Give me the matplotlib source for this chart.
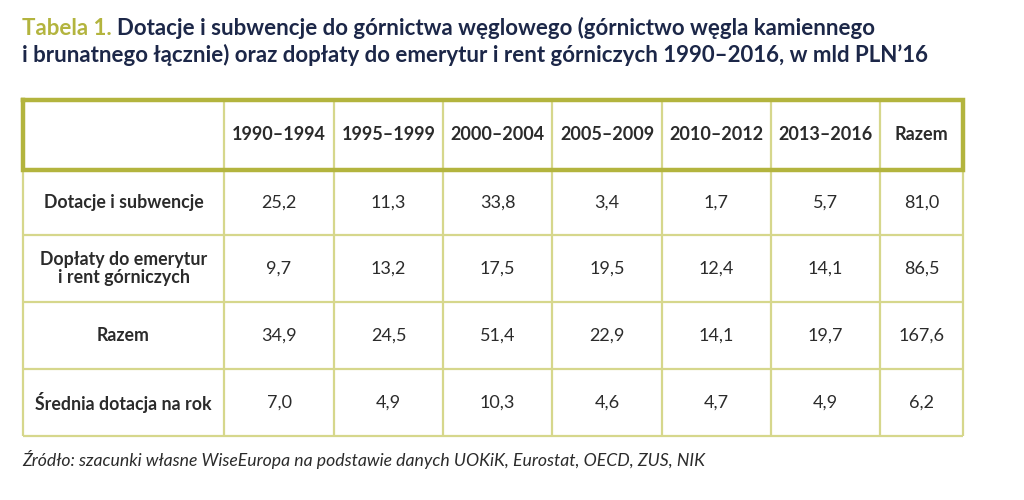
import matplotlib.pyplot as plt

# Table data
periods = ["1990–1994", "1995–1999", "2000–2004", "2005–2009",
           "2010–2012", "2013–2016", "Razem"]
row_labels = ["Dotacje i subwencje", "Dopłaty do emerytur\ni rent górniczych",
              "Razem", "Średnia dotacja na rok"]
dotacje = [25.2, 11.3, 33.8, 3.4, 1.7, 5.7, 81.0]
doplaty = [9.7, 13.2, 17.5, 19.5, 12.4, 14.1, 86.5]
razem = [34.9, 24.5, 51.4, 22.9, 14.1, 19.7, 167.6]
srednia = [7.0, 4.9, 10.3, 4.6, 4.7, 4.9, 6.2]
rows = [dotacje, doplaty, razem, srednia]

title_lead = "Tabela 1."
title_text = ("Dotacje i subwencje do górnictwa węglowego (górnictwo węgla kamiennego\n"
              "i brunatnego łącznie) oraz dopłaty do emerytur i rent górniczych 1990–2016, w mld PLN’16")
source = "Źródło: szacunki własne WiseEuropa na podstawie danych UOKiK, Eurostat, OECD, ZUS, NIK"

NAVY = "#1c2748"
OLIVE = "#b3b43e"
LIGHT = "#d6d78c"
TEXT = "#2b2b2b"
plt.rcParams['font.family'] = ['Lato', 'DejaVu Sans']

fig = plt.figure(figsize=(10.24, 5.0), dpi=100)
ax = fig.add_axes([0, 0, 1, 1])
ax.set_xlim(0, 1024)
ax.set_ylim(500, 0)
ax.axis('off')

# title
TS = 16
t = ax.text(22, 35, title_lead + " ", fontsize=TS, fontweight='bold', color=OLIVE, va='baseline')
fig.canvas.draw()
bb = t.get_window_extent()
x_after = ax.transData.inverted().transform((bb.x1, bb.y0))[0]
ax.text(x_after, 35, title_text.split("\n")[0], fontsize=TS, fontweight='bold',
        color=NAVY, va='baseline')
ax.text(22, 62, title_text.split("\n")[1], fontsize=TS, fontweight='bold',
        color=NAVY, va='baseline')

# grid geometry
col_x = [23, 224, 334, 443, 552, 662, 771, 880, 963]
row_y = [100, 170, 235, 302, 369, 436]

# inner light lines
for x in col_x:
    ax.plot([x, x], [row_y[0], row_y[-1]], color=LIGHT, lw=1.6, solid_capstyle='butt')
for y in row_y[1:]:
    ax.plot([col_x[0], col_x[-1]], [y, y], color=LIGHT, lw=1.6, solid_capstyle='butt')
# thick header box
ax.plot([col_x[0], col_x[-1], col_x[-1], col_x[0], col_x[0]],
        [row_y[0], row_y[0], row_y[1], row_y[1], row_y[0]],
        color=OLIVE, lw=3.2, solid_joinstyle='miter')

# header
for i, p in enumerate(periods):
    cx = (col_x[i + 1] + col_x[i + 2]) / 2
    ax.text(cx, (row_y[0] + row_y[1]) / 2, p, fontsize=13, fontweight='bold',
            color=TEXT, ha='center', va='center')

# rows
for r, (lab, vals) in enumerate(zip(row_labels, rows)):
    cy = (row_y[r + 1] + row_y[r + 2]) / 2
    ax.text((col_x[0] + col_x[1]) / 2, cy, lab, fontsize=12.8, fontweight='bold',
            color=TEXT, ha='center', va='center', linespacing=1.1)
    for i, v in enumerate(vals):
        cx = (col_x[i + 1] + col_x[i + 2]) / 2
        ax.text(cx, cy, f"{v:.1f}".replace(".", ","), fontsize=13,
                color=TEXT, ha='center', va='center')

ax.text(22, 466, source, fontsize=12.7, style='italic', color=TEXT, va='baseline')

fig.savefig("out.png", dpi=100)
